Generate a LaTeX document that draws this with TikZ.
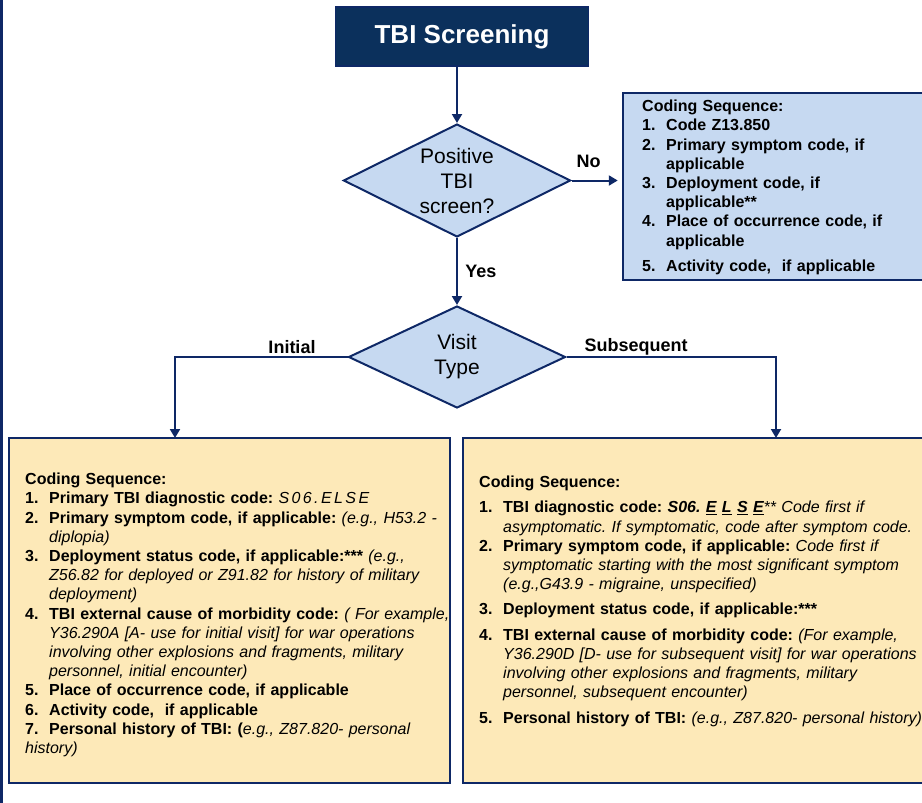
\documentclass[tikz,border=0pt]{standalone}
\usepackage{fontspec}
\setmainfont{Liberation Sans}
\usetikzlibrary{shapes.geometric,arrows.meta}

\definecolor{titlenavy}{RGB}{11,48,92}
\definecolor{linenavy}{RGB}{14,40,102}
\definecolor{paleblue}{RGB}{198,217,241}
\definecolor{paleyellow}{RGB}{253,233,184}

\newcommand{\seqnum}[1]{\par\hangindent=24pt\hangafter=1\noindent\makebox[24pt][l]{\bfseries#1}}

\begin{document}
\frenchspacing
\begin{tikzpicture}[x=1pt,y=-1pt,
    flow/.style={draw=linenavy, line width=2pt, -{Triangle[length=9pt,width=10pt]}},
    titlebox/.style={draw=linenavy, line width=1.5pt, fill=titlenavy, text=white,
      font=\fontsize{26pt}{30pt}\selectfont\bfseries,
      minimum width=253pt, minimum height=59pt, inner sep=0pt},
    decision/.style={diamond, aspect=2, draw=linenavy, line width=2pt, fill=paleblue,
      align=center, inner sep=0pt, font=\fontsize{21pt}{25pt}\selectfont},
    codebox/.style={draw=linenavy, line width=2.5pt, inner sep=0pt},
    codetext/.style={anchor=north west, inner sep=0pt, align=left,
      font=\fontsize{16pt}{19.2pt}\selectfont\frenchspacing},
    branch/.style={font=\fontsize{18pt}{21pt}\selectfont\bfseries}]
  \useasboundingbox (0,0) rectangle (922,803);
  \clip (0,0) rectangle (922,803);
  \draw[linenavy, line width=2.6pt] (1.3,0) -- (1.3,803);

  % screening and decisions
  \node[titlebox] (screen) at (462,36.5) {TBI Screening};
  \node[decision, minimum width=227pt, minimum height=113pt] (positive) at (457,180.5)
    {Positive\\TBI\\screen?};
  \node[decision, minimum width=217pt, minimum height=102pt] (visit) at (457,357)
    {Visit\\Type};

  % boxes
  \node[codebox, fill=paleblue, minimum width=312pt, minimum height=187pt] (negbox) at (779,186.5) {};
  \node[codebox, fill=paleyellow, minimum width=441pt, minimum height=345pt] (initbox) at (229.5,610.5) {};
  \node[codebox, fill=paleyellow, minimum width=472pt, minimum height=345pt] (subsbox) at (699,610.5) {};
  \coordinate (initin) at (175,438);
  \coordinate (subsin) at (776,438);

  \node[codetext, text width=280pt, font=\fontsize{16pt}{19.2pt}\selectfont\bfseries\frenchspacing] (negtext) at (642,100) {%
    Coding Sequence:
    \seqnum{1.}Code Z13.850
    \seqnum{2.}Primary symptom code, if\newline applicable
    \seqnum{3.}Deployment code, if\newline applicable**
    \seqnum{4.}Place of occurrence code, if\newline applicable
    \vskip6pt\seqnum{5.}Activity code,~ if applicable};

  \node[codetext, text width=440pt] (inittext) at (25,473) {%
    \textbf{Coding Sequence:}
    \seqnum{1.}\textbf{Primary TBI diagnostic code:} {\itshape\addfontfeature{LetterSpace=15}S06.ELSE}
    \seqnum{2.}\textbf{Primary symptom code, if applicable:} \textit{(e.g., H53.2 -\newline diplopia)}
    \seqnum{3.}\textbf{Deployment status code, if applicable:***} \textit{(e.g.,\newline Z56.82 for deployed or Z91.82 for history of military\newline deployment)}
    \seqnum{4.}\textbf{TBI external cause of morbidity code:} \textit{( For example,\newline Y36.290A [A- use for initial visit] for war operations\newline involving other explosions and fragments, military\newline personnel, initial encounter)}
    \seqnum{5.}\textbf{Place of occurrence code, if applicable}
    \seqnum{6.}\textbf{Activity code,~ if applicable}
    \seqnum{7.}\textbf{Personal history of TBI: (}\textit{e.g., Z87.820- personal\newline history)}};

  \node[codetext, text width=460pt] (substext) at (479,476) {%
    \textbf{Coding Sequence:}
    \vskip6pt\seqnum{1.}\textbf{TBI diagnostic code: \textit{S06. \underline{E} \underline{L} \underline{S} \underline{E}}}\textit{** Code first if\newline asymptomatic. If symptomatic, code after symptom code.}
    \seqnum{2.}\textbf{Primary symptom code, if applicable:} \textit{Code first if\newline symptomatic starting with the most significant symptom\newline (e.g.,G43.9 - migraine, unspecified)}
    \vskip6pt\seqnum{3.}\textbf{Deployment status code, if applicable:***}
    \vskip6pt\seqnum{4.}\textbf{TBI external cause of morbidity code:} \textit{(For example,\newline Y36.290D [D- use for subsequent visit] for war operations\newline involving other explosions and fragments, military\newline personnel, subsequent encounter)}
    \vskip7pt\seqnum{5.}\textbf{Personal history of TBI:} \textit{(e.g., Z87.820- personal history)}};

  % connectors
  \draw[flow] (positive.north |- screen.south) -- (positive.north);
  \draw[flow, shorten >=4pt] (positive.east) -- (positive.east -| negbox.west)
    node[branch, midway, above=8pt, xshift=-8pt] (nolabel) {No};
  \draw[flow] (positive.south) -- (visit.north)
    node[branch, pos=0.5, right=4pt] (yeslabel) {Yes};
  \draw[flow] (visit.west) -| (initin);
  \draw[flow] (visit.east) -| (subsin);
  \node[branch] (initlabel) at (292,347) {Initial};
  \node[branch] (subslabel) at (636,347) {Subsequent};
\end{tikzpicture}
\end{document}
